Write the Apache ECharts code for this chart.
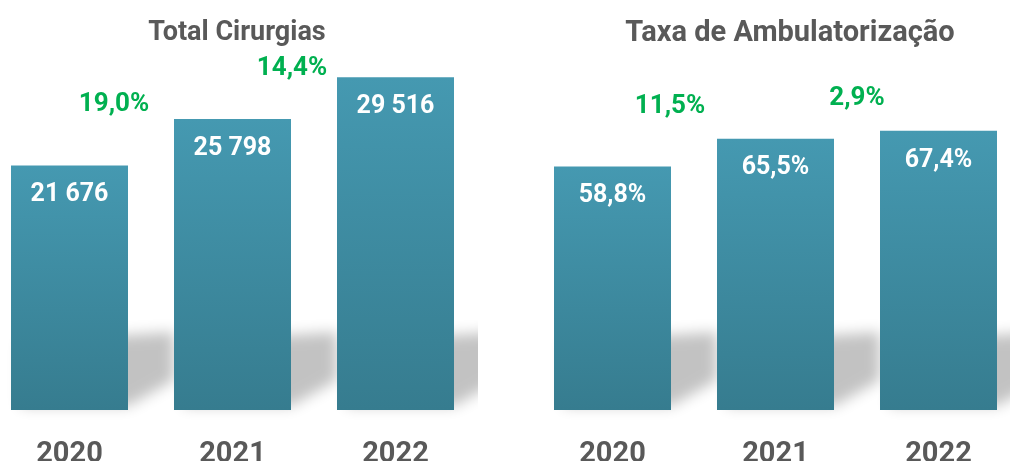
<!DOCTYPE html>
<html>
<head>
<meta charset="utf-8">
<script src="https://cdn.jsdelivr.net/npm/echarts@6/dist/echarts.min.js"></script>
<style>
html, body { margin: 0; padding: 0; background: #fff; }
#chart { width: 1010px; height: 461px; }
</style>
</head>
<body>
<div id="chart"></div>
<script>
// dados
var years = ['2020', '2021', '2022'];
var cirurgias = [21676, 25798, 29516];
var taxaAmb = [58.8, 65.5, 67.4];
var crescCirurgias = ['19,0%', '14,4%'];
var crescTaxa = ['11,5%', '2,9%'];
var titulos = ['Total Cirurgias', 'Taxa de Ambulatorização'];

var fonte = "Roboto, 'Liberation Sans', sans-serif";
var barColor = new echarts.graphic.LinearGradient(0, 0, 0, 1, [
    { offset: 0, color: '#4599b1' },
    { offset: 1, color: '#367c8f' }
]);

function fmtMil(v) {
    return String(v).replace(/\B(?=(\d{3})+(?!\d))/g, ' ');
}
function fmtPct(v) {
    return v.toFixed(1).replace('.', ',') + '%';
}

// sombra difusa atras das barras (desenhada fora do ecra e trazida pelo shadowOffset)
var OFF = 3000;
function sombra(params, api) {
    var p = api.coord([api.value(0), api.value(1)]);
    var w = 117;
    var L = p[0] - w / 2, R = p[0] + w / 2, B = p[1];
    var pts = [[L + 10, B - 68], [R + 46, B - 78], [R + 46, B - 30], [R, B - 4], [L + 10, B - 4]];
    return {
        type: 'polygon',
        shape: { points: pts.map(function (q) { return [q[0] - OFF, q[1]]; }) },
        style: { fill: '#000', shadowBlur: 14, shadowColor: 'rgba(0,0,0,0.24)', shadowOffsetX: OFF }
    };
}

function axisX(idx) {
    return {
        type: 'category', gridIndex: idx, data: years,
        axisLine: { show: false }, axisTick: { show: false },
        axisLabel: { color: '#595959', fontSize: 29, fontWeight: 'bold', fontFamily: fonte, margin: 30 }
    };
}
function axisY(idx, max) {
    return {
        type: 'value', gridIndex: idx, min: 0, max: max,
        show: false, splitLine: { show: false }
    };
}
function barSerie(idx, data, fmt) {
    return {
        type: 'bar', xAxisIndex: idx, yAxisIndex: idx, data: data,
        barWidth: 117, z: 3,
        itemStyle: { color: barColor },
        label: {
            show: true, position: 'insideTop', distance: 17,
            color: '#fff', fontSize: 25, fontWeight: 'bold', fontFamily: fonte,
            formatter: function (p) { return fmt(p.value); }
        }
    };
}
function sombraSerie(idx, data) {
    return {
        type: 'custom', xAxisIndex: idx, yAxisIndex: idx, z: 1, silent: true, clip: false,
        data: data.map(function (v, i) { return [i, 0]; }),
        renderItem: sombra
    };
}
function verde(txt, x, y) {
    return {
        type: 'text', x: x, y: y, z: 10,
        style: { text: txt, fill: '#00b050', font: 'bold 26px ' + fonte, align: 'center', verticalAlign: 'middle' }
    };
}

var chart = echarts.init(document.getElementById('chart'));
chart.setOption({
    animation: false,
    title: [
        { text: titulos[0], left: 232, top: 15, textAlign: 'center',
          textStyle: { color: '#595959', fontSize: 27, fontWeight: 'bold', fontFamily: fonte } },
        { text: titulos[1], left: 785, top: 14, textAlign: 'center',
          textStyle: { color: '#595959', fontSize: 29, fontWeight: 'bold', fontFamily: fonte } }
    ],
    grid: [
        { left: -12, width: 489, top: 4, height: 406, outerBoundsMode: 'none' },
        { left: 531, width: 489, top: 4, height: 406, outerBoundsMode: 'none' }
    ],
    xAxis: [axisX(0), axisX(1)],
    yAxis: [axisY(0, 36000), axisY(1, 98)],
    series: [
        sombraSerie(0, cirurgias),
        sombraSerie(1, taxaAmb),
        barSerie(0, cirurgias, fmtMil),
        barSerie(1, taxaAmb, fmtPct)
    ],
    graphic: [
        // branco para cortar a sombra na borda da area do primeiro grafico
        { type: 'rect', shape: { x: 478, y: 0, width: 60, height: 420 }, style: { fill: '#fff' }, z: 2 },
        verde(crescCirurgias[0], 114, 104),
        verde(crescCirurgias[1], 292, 68),
        verde(crescTaxa[0], 670, 106),
        verde(crescTaxa[1], 857, 98)
    ]
});
</script>
</body>
</html>
